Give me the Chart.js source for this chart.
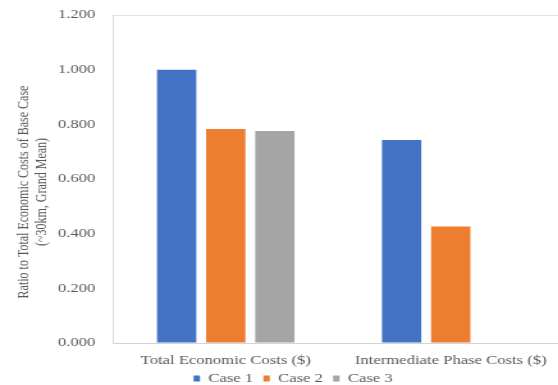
<!DOCTYPE html>
<html>
<head>
<meta charset="utf-8">
<script src="https://cdn.jsdelivr.net/npm/chart.js@4"></script>
<style>
  html, body { margin: 0; padding: 0; background: #fff; overflow: hidden; }
  /* the chart is drawn narrow and stretched sideways */
  #wrap { width: 440px; height: 385px; transform: scaleX(1.28); transform-origin: 0 0; }
</style>
</head>
<body>
<div id="wrap"><canvas id="myChart" width="440" height="385"></canvas></div>
<script>
const categories = ['Total Economic Costs ($)', 'Intermediate Phase Costs ($)'];
const seriesNames = ['Case 1', 'Case 2', 'Case 3'];
const case1 = [1.000, 0.743];
const case2 = [0.783, 0.426];
const case3 = [0.776, null];
const yTicks = [0, 0.2, 0.4, 0.6, 0.8, 1.0, 1.2];
const yTitle = ['Ratio to Total Economic Costs of Base Case', '(~30km, Grand Mean)'];

const colors = ['#4472C4', '#ED7D31', '#A5A5A5'];
const serif = "'Liberation Serif', 'Times New Roman', serif";

// y axis title, drawn centred on the whole canvas height
const yTitlePlugin = {
  id: 'yTitle',
  afterLayout(chart) {
    // pull the legend up a little closer to the category labels
    chart.legend.top -= 3;
    chart.legend.bottom -= 3;
  },
  afterDraw(chart) {
    const ctx = chart.ctx;
    ctx.save();
    ctx.fillStyle = '#595959';
    ctx.font = '12px ' + serif;
    ctx.textAlign = 'center';
    ctx.textBaseline = 'middle';
    ctx.translate(18.5, 192);
    ctx.rotate(-Math.PI / 2);
    ctx.fillText(yTitle[0], 0, 0);
    ctx.fillText(yTitle[1], 0, 14.5);
    ctx.restore();
  }
};

const data = {
  labels: categories,
  datasets: [case1, case2, case3].map((vals, i) => ({
    label: seriesNames[i],
    data: vals,
    backgroundColor: colors[i],
    borderWidth: 0,
    categoryPercentage: 0.655,
    barPercentage: 0.8
  }))
};

const config = {
  type: 'bar',
  data: data,
  plugins: [yTitlePlugin],
  options: {
    responsive: false,
    animation: false,
    layout: { padding: { left: 18, right: 0, top: 15, bottom: -13 } },
    plugins: {
      legend: {
        position: 'bottom',
        labels: {
          boxWidth: 5,
          boxHeight: 6,
          padding: 8,
          color: '#595959',
          font: { family: serif, size: 13 }
        }
      },
      tooltip: { enabled: false }
    },
    scales: {
      x: {
        afterFit: (scale) => { scale.height = 24; },
        grid: { display: false, drawTicks: false },
        border: { display: true, color: '#d4d4d4' },
        ticks: { color: '#595959', padding: 10, font: { family: serif, size: 13 } }
      },
      y: {
        min: 0,
        max: 1.2,
        afterBuildTicks: (scale) => { scale.ticks = yTicks.map(v => ({ value: v })); },
        afterFit: (scale) => {
          scale.width = 70.5;
          scale.paddingTop = 0;
          scale.paddingBottom = 0;
        },
        grid: {
          drawTicks: false,
          color: (c) => (c.tick && c.tick.value > 1.19 ? '#e3e3e3' : 'rgba(0,0,0,0)')
        },
        border: { display: true, color: '#dcdcdc' },
        ticks: {
          color: '#595959',
          padding: 14,
          font: { family: serif, size: 13 },
          callback: (v) => Number(v).toFixed(3)
        }
      }
    }
  }
};

const myChart = new Chart(document.getElementById('myChart'), config);
</script>
</body>
</html>
